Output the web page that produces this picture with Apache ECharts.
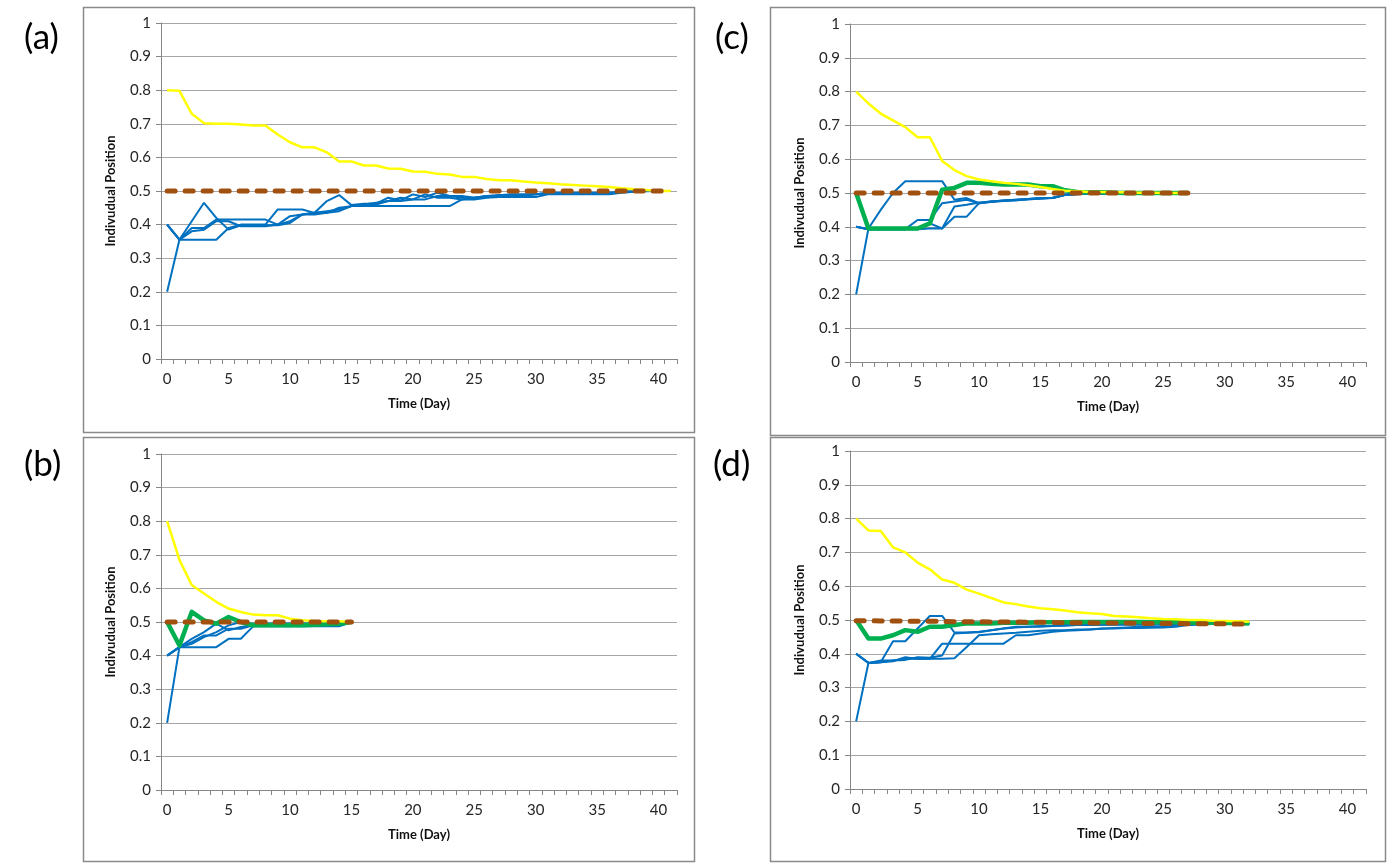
<!DOCTYPE html>
<html><head><meta charset="utf-8">
<script src="https://cdn.jsdelivr.net/npm/echarts@6/dist/echarts.min.js"></script>
<style>html,body{margin:0;padding:0;background:#fff}#c{width:1387px;height:865px}</style>
</head><body><div id="c"></div>
<script>
// ---------- DATA ----------
const days = ['0','1','2','3','4','5','6','7','8','9','10','11','12','13','14','15','16','17','18','19','20',
  '21','22','23','24','25','26','27','28','29','30','31','32','33','34','35','36','37','38','39','40','41'];
const yTickLabels = ['0','0.1','0.2','0.3','0.4','0.5','0.6','0.7','0.8','0.9','1'];
const panelLabels = ['(a)','(b)','(c)','(d)'];
const xAxisName = 'Time (Day)';
const yAxisName = 'Indivudual Position';

// Panel (a)
const aYellow = [0.8,0.798,0.73,0.702,0.70,0.70,0.698,0.695,0.695,0.668,0.645,0.63,0.63,0.615,0.588,0.588,0.576,0.576,0.567,0.566,0.558,0.557,0.551,0.549,0.542,0.542,0.536,0.532,0.532,0.528,0.525,0.523,0.52,0.518,0.516,0.514,0.512,0.508,0.505,0.503,0.5,0.5];
const aBrown = [0.5,0.5,0.5,0.5,0.5,0.5,0.5,0.5,0.5,0.5,0.5,0.5,0.5,0.5,0.5,0.5,0.5,0.5,0.5,0.5,0.5,0.5,0.5,0.5,0.5,0.5,0.5,0.5,0.5,0.5,0.5,0.5,0.5,0.5,0.5,0.5,0.5,0.5,0.5,0.5,0.5,0.5];
const aBlue1 = [0.40,0.355,0.41,0.465,0.42,0.385,0.398,0.398,0.398,0.398,0.405,0.43,0.435,0.47,0.488,0.458,0.462,0.462,0.48,0.472,0.49,0.482,0.495,0.485,0.485,0.48,0.482,0.487,0.49,0.49,0.49,0.493,0.493,0.493,0.493,0.493,0.493,0.497,0.498,0.499,0.5,0.5];
const aBlue2 = [0.2,0.355,0.39,0.39,0.415,0.415,0.415,0.415,0.415,0.40,0.425,0.43,0.43,0.435,0.45,0.455,0.46,0.46,0.47,0.48,0.475,0.49,0.48,0.48,0.475,0.48,0.485,0.485,0.485,0.485,0.49,0.493,0.493,0.493,0.493,0.493,0.495,0.497,0.5,0.5,0.5,0.5];
const aBlue3 = [0.40,0.355,0.355,0.355,0.355,0.39,0.40,0.40,0.40,0.445,0.445,0.445,0.435,0.44,0.445,0.455,0.455,0.455,0.455,0.455,0.455,0.455,0.455,0.455,0.475,0.475,0.48,0.482,0.482,0.482,0.482,0.49,0.49,0.49,0.49,0.49,0.49,0.495,0.498,0.5,0.5,0.5];
const aBlue4 = [0.40,0.355,0.38,0.385,0.41,0.41,0.395,0.395,0.395,0.40,0.41,0.43,0.435,0.435,0.44,0.455,0.46,0.465,0.47,0.47,0.475,0.475,0.485,0.485,0.48,0.48,0.485,0.488,0.488,0.488,0.49,0.495,0.495,0.495,0.495,0.495,0.495,0.497,0.499,0.5,0.5,0.5];

// Panel (b)
const bYellow = [0.8,0.685,0.61,0.585,0.56,0.54,0.53,0.522,0.52,0.52,0.51,0.505,0.503,0.502,0.502,0.5];
const bGreen = [0.5,0.43,0.53,0.505,0.495,0.515,0.5,0.49,0.49,0.49,0.49,0.49,0.492,0.493,0.495,0.5];
const bBrown = [0.5,0.5,0.5,0.5,0.5,0.5,0.5,0.5,0.5,0.5,0.5,0.5,0.5,0.5,0.5,0.5];
const bBlue1 = [0.4,0.425,0.425,0.425,0.425,0.45,0.45,0.487,0.487,0.487,0.487,0.487,0.487,0.487,0.487,0.5];
const bBlue2 = [0.2,0.425,0.44,0.46,0.46,0.48,0.48,0.49,0.49,0.49,0.49,0.49,0.49,0.49,0.49,0.5];
const bBlue3 = [0.4,0.425,0.45,0.47,0.495,0.475,0.485,0.49,0.495,0.495,0.495,0.495,0.495,0.495,0.495,0.5];
const bBlue4 = [0.4,0.425,0.435,0.455,0.47,0.49,0.5,0.495,0.495,0.495,0.495,0.495,0.495,0.495,0.495,0.5];

// Panel (c)
const cYellow = [0.8,0.765,0.735,0.715,0.695,0.665,0.665,0.595,0.568,0.55,0.54,0.535,0.53,0.527,0.523,0.518,0.512,0.507,0.505,0.503,0.503,0.502,0.502,0.501,0.501,0.5,0.5,0.5];
const cGreen = [0.5,0.395,0.395,0.395,0.395,0.395,0.41,0.51,0.515,0.53,0.53,0.527,0.525,0.525,0.525,0.52,0.52,0.508,0.503,0.502,0.502,0.501,0.5,0.5,0.5,0.5,0.5,0.5];
const cBrown = [0.5,0.5,0.5,0.5,0.5,0.5,0.5,0.5,0.5,0.5,0.5,0.5,0.5,0.5,0.5,0.5,0.5,0.5,0.5,0.5,0.5,0.5,0.5,0.5,0.5,0.5,0.5,0.5];
const cBlue1 = [0.2,0.395,0.45,0.5,0.535,0.535,0.535,0.535,0.48,0.485,0.47,0.475,0.478,0.48,0.482,0.485,0.485,0.495,0.497,0.498,0.498,0.499,0.499,0.5,0.5,0.5,0.5,0.5];
const cBlue2 = [0.4,0.393,0.393,0.393,0.393,0.42,0.42,0.47,0.475,0.48,0.47,0.475,0.478,0.48,0.482,0.485,0.485,0.495,0.497,0.498,0.498,0.499,0.499,0.5,0.5,0.5,0.5,0.5];
const cBlue3 = [0.4,0.393,0.393,0.393,0.393,0.395,0.41,0.395,0.43,0.43,0.47,0.473,0.476,0.478,0.482,0.483,0.485,0.494,0.496,0.498,0.498,0.499,0.499,0.5,0.5,0.5,0.5,0.5];
const cBlue4 = [0.4,0.393,0.393,0.393,0.393,0.393,0.395,0.395,0.46,0.465,0.472,0.475,0.477,0.479,0.481,0.484,0.486,0.495,0.497,0.498,0.498,0.499,0.499,0.5,0.5,0.5,0.5,0.5];

// Panel (d)
const dYellow = [0.8,0.765,0.763,0.715,0.70,0.67,0.65,0.62,0.61,0.59,0.578,0.565,0.552,0.547,0.54,0.535,0.532,0.528,0.523,0.52,0.518,0.512,0.51,0.508,0.505,0.503,0.502,0.5,0.5,0.498,0.497,0.496,0.495];
const dGreen = [0.5,0.445,0.445,0.455,0.47,0.465,0.48,0.48,0.485,0.49,0.49,0.49,0.492,0.492,0.492,0.493,0.493,0.493,0.494,0.494,0.494,0.494,0.494,0.494,0.493,0.493,0.493,0.492,0.492,0.492,0.491,0.491,0.49];
const dBrown = [0.498,0.498,0.497,0.497,0.497,0.496,0.496,0.496,0.495,0.495,0.495,0.494,0.494,0.494,0.493,0.493,0.493,0.492,0.492,0.492,0.491,0.491,0.491,0.49,0.49,0.49,0.49,0.489,0.489,0.489,0.489,0.488,0.488];
const dBlue1 = [0.2,0.373,0.375,0.437,0.437,0.475,0.512,0.512,0.463,0.463,0.465,0.47,0.475,0.48,0.48,0.482,0.482,0.485,0.485,0.485,0.487,0.487,0.487,0.487,0.487,0.488,0.488,0.49,0.49,0.49,0.49,0.49,0.49];
const dBlue2 = [0.4,0.373,0.375,0.38,0.385,0.385,0.385,0.385,0.387,0.42,0.455,0.458,0.46,0.462,0.465,0.468,0.47,0.47,0.472,0.472,0.475,0.475,0.476,0.476,0.477,0.478,0.48,0.485,0.487,0.488,0.489,0.49,0.49];
const dBlue3 = [0.4,0.373,0.375,0.378,0.39,0.385,0.385,0.43,0.43,0.43,0.43,0.43,0.43,0.455,0.455,0.46,0.465,0.468,0.47,0.472,0.474,0.476,0.478,0.48,0.48,0.482,0.484,0.486,0.488,0.489,0.49,0.49,0.49];
const dBlue4 = [0.4,0.373,0.38,0.38,0.382,0.39,0.388,0.395,0.46,0.462,0.464,0.47,0.475,0.478,0.48,0.48,0.482,0.483,0.485,0.485,0.486,0.486,0.487,0.487,0.487,0.488,0.488,0.489,0.489,0.49,0.49,0.49,0.49];

// ---------- LAYOUT / STYLE ----------
const panels = [
  {blue:[aBlue1,aBlue2,aBlue3,aBlue4], green:null,   yellow:aYellow, brown:aBrown},
  {blue:[bBlue1,bBlue2,bBlue3,bBlue4], green:bGreen, yellow:bYellow, brown:bBrown},
  {blue:[cBlue1,cBlue2,cBlue3,cBlue4], green:cGreen, yellow:cYellow, brown:cBrown},
  {blue:[dBlue1,dBlue2,dBlue3,dBlue4], green:dGreen, yellow:dYellow, brown:dBrown}
];
const gridBoxes = [
  {left:161, top:23,  width:516, height:336},
  {left:161, top:454, width:516, height:336},
  {left:850, top:24,  width:516, height:338},
  {left:850, top:451, width:516, height:338}
];
const frames = [
  {x:83.5, y:7.5,   w:611, h:425},
  {x:83.5, y:437.5, w:611, h:424},
  {x:770.5,y:7.5,   w:615, h:428},
  {x:770.5,y:437.5, w:615, h:424}
];
const labelPos = [[24,38],[24,465],[715,38],[713,465]];

const FONT = 'Lato, "Open Sans", sans-serif';
const AXIS_COLOR = '#868686';
const GRID_COLOR = '#a6a6a6';
const COL = {blue:'#0070C0', green:'#00B050', yellow:'#FFFF00', brown:'#A0500F'};

const grid = [], xAxis = [], yAxis = [], series = [], graphic = [];
panels.forEach((p, i) => {
  grid.push(Object.assign({containLabel:false}, gridBoxes[i]));
  xAxis.push({
    type:'category', gridIndex:i, data:days, boundaryGap:true,
    axisLine:{show:true, lineStyle:{color:AXIS_COLOR, width:1}},
    axisTick:{show:true, interval:0, length:5, lineStyle:{color:AXIS_COLOR}},
    axisLabel:{interval:4, margin:13, fontFamily:FONT, fontSize:15, color:'#262626'},
    splitLine:{show:false},
    name:xAxisName, nameLocation:'middle', nameGap:38,
    nameTextStyle:{fontFamily:FONT, fontWeight:'bold', fontSize:13, color:'#111'}
  });
  yAxis.push({
    type:'value', gridIndex:i, min:0, max:1, interval:0.1,
    axisLine:{show:true, lineStyle:{color:AXIS_COLOR, width:1}},
    axisTick:{show:true, length:5, lineStyle:{color:AXIS_COLOR}},
    axisLabel:{margin:10, fontFamily:FONT, fontSize:15, color:'#262626',
      formatter:v => yTickLabels[Math.round(v*10)]},
    splitLine:{show:true, lineStyle:{color:GRID_COLOR, width:1}},
    name:yAxisName, nameLocation:'middle', nameGap:44,
    nameTextStyle:{fontFamily:FONT, fontWeight:'bold', fontSize:13, color:'#111'}
  });
  p.blue.forEach(arr => series.push({
    type:'line', xAxisIndex:i, yAxisIndex:i, data:arr, showSymbol:false, symbol:'none',
    lineStyle:{color:COL.blue, width:2}, animation:false, silent:true
  }));
  if (p.green) series.push({
    type:'line', xAxisIndex:i, yAxisIndex:i, data:p.green, showSymbol:false, symbol:'none',
    lineStyle:{color:COL.green, width:4.5, join:'round'}, animation:false, silent:true
  });
  series.push({
    type:'line', xAxisIndex:i, yAxisIndex:i, data:p.yellow, showSymbol:false, symbol:'none',
    lineStyle:{color:COL.yellow, width:2.5}, animation:false, silent:true
  });
  series.push({
    type:'line', xAxisIndex:i, yAxisIndex:i, data:p.brown, showSymbol:false, symbol:'none',
    lineStyle:{color:COL.brown, width:5, type:[8,10], cap:'round'}, animation:false, silent:true
  });
  const f = frames[i];
  graphic.push({type:'rect', shape:{x:f.x, y:f.y, width:f.w, height:f.h},
    style:{fill:null, stroke:'#8a8a8a', lineWidth:1.5}, silent:true, z:-1});
  graphic.push({type:'text', x:labelPos[i][0], y:labelPos[i][1],
    style:{text:panelLabels[i], font:'35px ' + FONT, fill:'#000', textVerticalAlign:'middle'}, silent:true});
});

const chart = echarts.init(document.getElementById('c'), null, {renderer:'canvas'});
chart.setOption({animation:false, backgroundColor:'#fff', grid, xAxis, yAxis, series, graphic});
</script></body></html>
